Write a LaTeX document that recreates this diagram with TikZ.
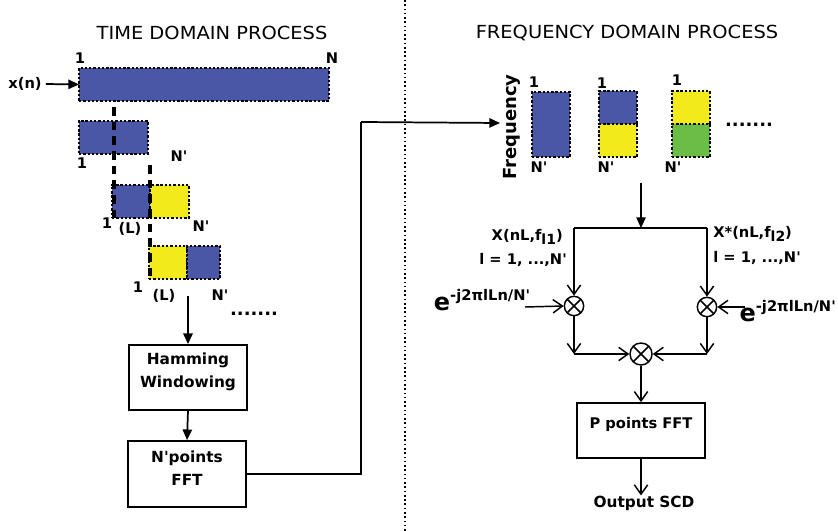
\documentclass[tikz,border=0pt]{standalone}
\usepackage{fontspec}
\setmainfont{DejaVu Sans}
\newfontfamily\titlefont[FakeStretch=1.08]{DejaVu Sans}
\usetikzlibrary{arrows.meta,fit}
\definecolor{cblue}{RGB}{74,87,166}
\definecolor{cyel}{RGB}{242,234,26}
\definecolor{cgreen}{RGB}{106,189,69}
\newcommand\qq{\textquotesingle}
\begin{document}
\begin{tikzpicture}[x=0.75pt,y=-0.75pt,
  cell/.style={draw=black, line width=1pt, dash pattern=on 1.8pt off 1.4pt, inner sep=0pt, outer sep=0pt},
  lbl/.style={font=\bfseries\fontsize{11}{13}\selectfont, inner sep=0pt},
  title/.style={font=\titlefont\fontsize{13.5}{16}\selectfont, inner sep=0pt},
  box/.style={draw, line width=1.3pt, fill=white, inner sep=0pt, align=center, font=\bfseries\fontsize{11.5}{17}\selectfont},
  arr/.style={-{Triangle[length=8pt,width=7pt]}, line width=1.3pt},
  oarr/.style={-{Straight Barb[length=7pt,width=10pt]}, line width=1.1pt},
  guide/.style={line width=2.6pt, dash pattern=on 6.5pt off 4.5pt},
  mul/.style={circle, draw, line width=1.1pt, minimum size=14.5pt, inner sep=0pt,
    path picture={\draw[line width=1.1pt] (path picture bounding box.north west) -- (path picture bounding box.south east)
      (path picture bounding box.north east) -- (path picture bounding box.south west);}},
  elbl/.style={font=\bfseries, inner sep=0pt}
]
\useasboundingbox (0,0) rectangle (838,531);

% titles and separator
\node[title] (t1) at (212,33) {TIME DOMAIN PROCESS};
\node[title] (t2) at (627,33) {FREQUENCY DOMAIN PROCESS};
\coordinate (sepT) at (405,0);
\coordinate (sepB) at (405,531);
\draw[line width=1.2pt, dotted] (sepT) -- (sepB);

% ---------- time domain ----------
\node[cell, fill=cblue, fit={(79,68) (329,101)}] (big) {};
\node[lbl] (xn) at (25,84) {x(n)};
\draw[arr] (xn.east) ++(4,0) coordinate (xs) (xs) -- (big.west);
\node[lbl] (b1) at (80,58) {1};
\node[lbl] (bN) at (332,58) {N};

\node[cell, fill=cblue, fit={(79,121) (148,154)}] (r2) {};
\node[lbl] (r2a) at (82,163) {1};
\node[lbl] (r2b) at (179,156) {N\qq};

\node[cell, fill=cblue, fit={(112,185) (150,218)}] (r3a) {};
\node[cell, fill=cyel, fit={(150,185) (189,218)}] (r3b) {};
\node[lbl] (r3l1) at (107,223) {1};
\node[lbl] (r3l2) at (130,229) {(L)};
\node[lbl] (r3l3) at (201,226) {N\qq};

\node[cell, fill=cyel, fit={(149,246) (187,279)}] (r4a) {};
\node[cell, fill=cblue, fit={(187,246) (220,279)}] (r4b) {};
\node[lbl] (r4l1) at (138,287) {1};
\node[lbl] (r4l2) at (164,296) {(L)};
\node[lbl] (r4l3) at (220,295) {N\qq};
\node[lbl, anchor=base, font=\bfseries\fontsize{13.5}{14}\selectfont] (dots1) at (254,315) {.......};

\draw[guide] (114,107) coordinate (g1a) -- (114,220) coordinate (g1b);
\draw[guide] (150,165) coordinate (g2a) -- (150,281) coordinate (g2b);

\node[box, fit={(129,345) (247,410)}] (ham) {Hamming\\Windowing};
\node[box, fit={(128,441) (246,507)}] (nfft) {N\qq points\\FFT};
\coordinate (a0) at (188,296);
\draw[arr] (a0) -- (ham.north);
\draw[arr] (ham.south) -- (nfft.north);
\coordinate (k1) at (361,474);
\coordinate (k2) at (361,122);
\coordinate (fin) at (500,123);
\draw[line width=1.3pt] (nfft.east) -- (k1) -- (k2);
\draw[arr] (k2) -- (fin);

% ---------- frequency domain ----------
\node[lbl, rotate=90, font=\bfseries\fontsize{13.5}{15}\selectfont] (freq) at (512,127) {Frequency};
\node[cell, fill=cblue, fit={(532,92) (570,157)}] (fa) {};
\node[cell, fill=cblue, fit={(599,91) (637,124)}] (fb1) {};
\node[cell, fill=cyel, fit={(599,124) (637,157)}] (fb2) {};
\node[cell, fill=cyel, fit={(672,91) (710,124)}] (fc1) {};
\node[cell, fill=cgreen, fit={(672,124) (710,157)}] (fc2) {};
\node[lbl] (fa1) at (534,82) {1};
\node[lbl] (fb1l) at (602,83) {1};
\node[lbl] (fc1l) at (677,80) {1};
\node[lbl] (faN) at (539,167) {N\qq};
\node[lbl] (fbN) at (606,167) {N\qq};
\node[lbl] (fcN) at (673,167) {N\qq};
\node[lbl, anchor=base, font=\bfseries\fontsize{13.5}{14}\selectfont] (dots2) at (749,127) {.......};

\coordinate (s0) at (641,183);
\coordinate (jn) at (641,228);
\coordinate (hl) at (574,228);
\coordinate (hr) at (707,228);
\draw[arr] (s0) -- (jn);
\draw[line width=1.1pt] (hl) -- (hr);

\node[lbl, anchor=east] (xl1) at (563,237) {X(nL,f\raisebox{-0.45ex}{\fontsize{10.5}{10}\selectfont l1})};
\node[lbl, anchor=east] (xl2) at (567,260) {l = 1, ...,N\qq};
\node[lbl, anchor=west] (xr1) at (713,234) {X*(nL,f\raisebox{-0.45ex}{\fontsize{10.5}{10}\selectfont l2})};
\node[lbl, anchor=west] (xr2) at (713,258) {l = 1, ...,N\qq};

\node[mul] (mL) at (574,306) {};
\node[mul] (mR) at (707,307) {};
\node[mul, minimum size=16.5pt] (mC) at (641,354) {};

\node[elbl] (eL) at (482,300) {\fontsize{18}{18}\selectfont e\raisebox{0.8ex}{\fontsize{11}{11}\selectfont -j2πlLn/N\qq}};
\node[elbl, anchor=east] (eR) at (836,311) {\fontsize{18}{18}\selectfont e\raisebox{0.8ex}{\fontsize{11}{11}\selectfont -j2πlLn/N\qq}};
\coordinate (eLa) at (525,307);
\coordinate (eRa) at (745,307);

\draw[oarr] (hl) -- (mL.north);
\draw[oarr] (hr) -- (mR.north);
\draw[oarr] (eLa) -- (mL.west);
\draw[oarr] (eRa) -- (mR.east);

\coordinate (bl) at (574,354);
\coordinate (br) at (707,354);
\draw[oarr] (mL.south) -- (bl);
\draw[oarr] (bl) -- (mC.west);
\draw[oarr] (mR.south) -- (br);
\draw[oarr] (br) -- (mC.east);

\node[box, fit={(577,403) (705,458)}, font=\bfseries\fontsize{11}{13}\selectfont] (pfft) {P points FFT};
\node[lbl, font=\bfseries\fontsize{11.5}{13}\selectfont] (outp) at (644,503) {Output SCD};
\draw[oarr] (mC.south) -- (pfft.north);
\draw[oarr] (pfft.south) -- (pfft.south |- outp.north);
\end{tikzpicture}
\end{document}
